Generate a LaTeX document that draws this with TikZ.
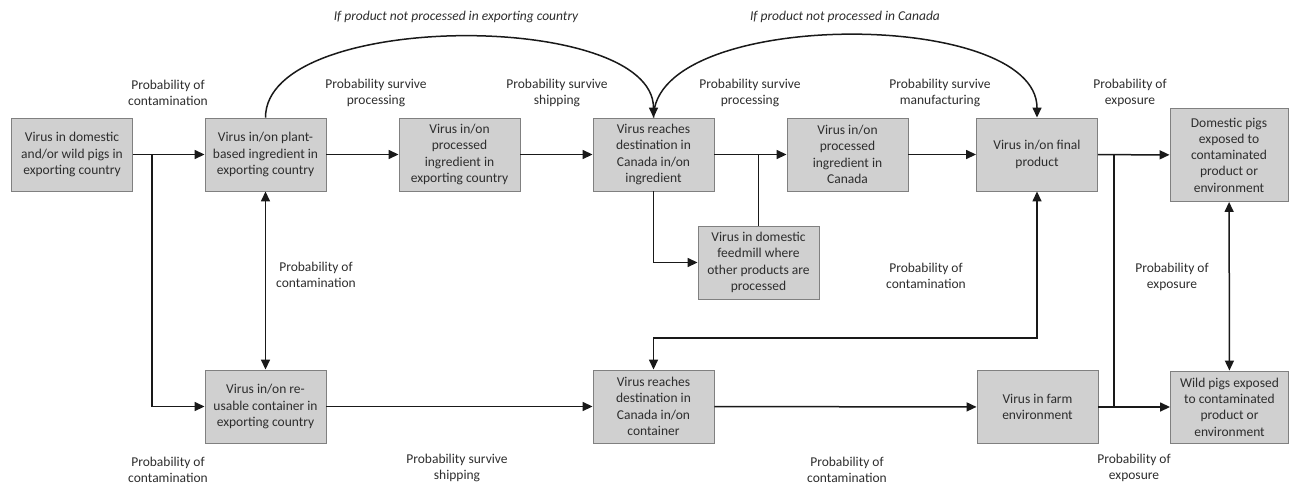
\documentclass[tikz,border=0pt]{standalone}
\usepackage{fontspec}
\setmainfont{Carlito}
\usetikzlibrary{arrows.meta,calc}
\definecolor{boxfill}{RGB}{208,208,208}
\definecolor{boxline}{RGB}{128,128,128}
\definecolor{txt}{RGB}{45,45,45}
\definecolor{ln}{RGB}{25,25,25}
\begin{document}
\begin{tikzpicture}[x=1pt,y=-1pt,
  box/.style={draw=boxline,fill=boxfill,line width=0.9pt,minimum width=121pt,minimum height=73pt,align=center,inner sep=0pt,font=\fontsize{13.5}{16.3}\selectfont,text=txt},
  lbl/.style={align=center,inner sep=0pt,font=\fontsize{13.5}{16.5}\selectfont,text=txt},
  ital/.style={inner sep=0pt,font=\fontsize{13.5}{16.5}\selectfont\itshape,text=txt},
  conn/.style={draw=ln,line width=1.5pt},
  arr/.style={conn,-{Triangle[length=10pt,width=9pt]}},
  darr/.style={conn,{Triangle[length=10pt,width=9pt]}-{Triangle[length=10pt,width=9pt]}}]
\useasboundingbox (0,0) rectangle (1290,488);
% boxes
\node[box] (b1) at (72,154.5) {Virus in domestic\\and/or wild pigs in\\exporting country};
\node[box] (b2) at (265.5,154.5) {Virus in/on plant-\\based ingredient in\\exporting country};
\node[box] (b3) at (459.5,154.5) {Virus in/on\\processed\\ingredient in\\exporting country};
\node[box] (b4) at (653.5,154.5) {Virus reaches\\destination in\\Canada in/on\\ingredient};
\node[box] (b5) at (847.5,154.5) {Virus in/on\\processed\\ingredient in\\Canada};
\node[box] (b6) at (1037,154.5) {Virus in/on final\\product};
\node[box,minimum width=118pt,minimum height=93pt] (b7) at (1229,155) {Domestic pigs\\exposed to\\contaminated\\product or\\environment};
\node[box] (b8) at (758.5,262.5) {Virus in domestic\\feedmill where\\other products are\\processed};
\node[box] (b9) at (265.5,406.5) {Virus in/on re-\\usable container in\\exporting country};
\node[box] (b10) at (653.5,406.5) {Virus reaches\\destination in\\Canada in/on\\container};
\node[box] (b11) at (1037.5,407) {Virus in farm\\environment};
\node[box,minimum width=118pt,minimum height=72pt] (b12) at (1229.5,407) {Wild pigs exposed\\to contaminated\\product or\\environment};
% labels
\node[lbl] (l1) at (168,93) {Probability of\\contamination};
\node[lbl] (l2) at (376,93) {Probability survive\\processing};
\node[lbl] (l3) at (557,93) {Probability survive\\shipping};
\node[lbl] (l4) at (750,93) {Probability survive\\processing};
\node[lbl] (l5) at (940,93) {Probability survive\\manufacturing};
\node[lbl] (l6) at (1130,93) {Probability of\\exposure};
\node[lbl] (l7) at (316,275) {Probability of\\contamination};
\node[lbl] (l8) at (926,276) {Probability of\\contamination};
\node[lbl] (l9) at (1172,277) {Probability of\\exposure};
\node[lbl] (l10) at (168,470) {Probability of\\contamination};
\node[lbl] (l11) at (457,468) {Probability survive\\shipping};
\node[lbl] (l12) at (847,470) {Probability of\\contamination};
\node[lbl] (l13) at (1134,468) {Probability of\\exposure};
\node[ital] (t1) at (456,17) {If product not processed in exporting country};
\node[ital] (t2) at (845,17) {If product not processed in Canada};
% coordinates
\coordinate (j1) at (152,154.5);
\coordinate (j2) at (758.5,154.5);
\coordinate (j3) at (1114,154.5);
\coordinate (j4) at (1114,407);
\coordinate (m) at (845,338);
% connectors
\draw[arr] (b1) -- (b2);
\draw[conn] (j1) -- (j1 |- b9);
\draw[arr] (j1 |- b9) -- (b9);
\draw[arr] (b2) -- (b3);
\draw[arr] (b3) -- (b4);
\draw[arr] (b4) -- (b5);
\draw[conn] (b8.north) -- (j2);
\draw[arr] (b4.south) |- (b8.west);
\draw[arr] (b5) -- (b6);
\draw[arr] (b6) -- (b7);
\draw[conn] (j3) -- (j4);
\draw[arr] (b11) -- (b12);
\draw[darr] (b2) -- (b9);
\draw[darr] (b7) -- (b12);
\draw[arr] (b9) -- (b10);
\draw[arr] (b10) -- (b11);
\draw[darr] (b10.north) |- (m) -| (b6.south);
\draw[arr] (b2.north) .. controls (265.5,10) and (653.5,10) .. (b4.north);
\draw[arr] (b4.north) .. controls (653.5,8) and (1037,8) .. (b6.north);
\end{tikzpicture}
\end{document}
